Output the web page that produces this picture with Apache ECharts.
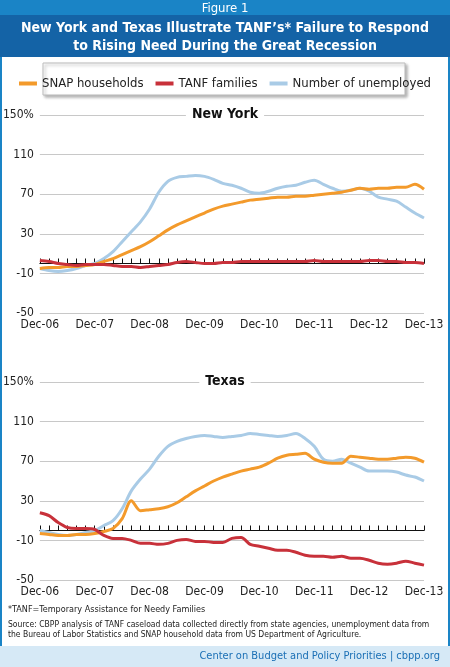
<!DOCTYPE html>
<html><head><meta charset="utf-8">
<script src="https://cdn.jsdelivr.net/npm/echarts@6/dist/echarts.min.js"></script>
<style>html,body{margin:0;padding:0;width:450px;height:667px;overflow:hidden;background:#fff}#c{width:450px;height:667px}</style>
</head><body><div id="c"></div>
<script>
const months = [];
(function(){const m=['Dec','Feb','Apr','Jun','Aug','Oct'];for(let y=6;y<=13;y++){for(let i=0;i<6;i++){if(y===13&&i>0)break;months.push(m[i]+'-'+String(i===0?y:y+1).padStart(2,'0'));}}})();
const yTicks = [-50,-10,30,70,110,150];
const nySnap = [-5,-4,-4,-3,-3,-2,-1, 2,5,9,13,17,22, 28,34,39,43,47,51, 55,58,60,62,64,65, 66,67,67,68,68,69, 70,71,72,74,76,75, 76,76,77,77,80,75];
const nyTanf = [3,2,0,-1,-2,-1,-1, -1,-2,-3,-3,-4,-3, -2,-1,1,2,1,0, 0,1,1,2,2,2, 2,2,2,2,2,3, 2,2,2,2,2,3, 3,2,2,1,1,0];
const nyUnemp = [-5,-7,-8,-7,-5,-2,0, 5,12,22,32,42,55, 72,83,87,88,89,88, 85,81,79,76,72,71, 73,76,78,79,82,84, 80,76,73,74,76,73, 67,65,63,57,51,46];
const txSnap = [-3,-4,-5,-5,-4,-4,-3, -1,2,12,30,20,21, 22,24,28,34,40,45, 50,54,57,60,62,64, 68,73,76,77,78,72, 69,68,68,75,74,73, 72,72,73,74,73,69];
const txTanf = [18,15,8,3,2,2,1, -5,-8,-8,-10,-13,-13, -14,-13,-10,-9,-11,-11, -12,-12,-8,-7,-14,-16, -18,-20,-20,-22,-25,-26, -26,-27,-26,-28,-28,-30, -33,-34,-33,-31,-33,-35];
const txUnemp = [0,-2,-4,-5,-4,-2,0, 5,10,22,40,52,62, 75,85,90,93,95,96, 95,94,95,96,98,97, 96,95,96,98,93,85, 72,70,72,68,64,60, 60,60,59,56,54,50];
const seriesNames = ['SNAP households','TANF families','Number of unemployed'];
const colors = ['#f39a2b','#c8313a','#a9cbe6'];
const F = "'Liberation Sans Narrow','DejaVu Sans Condensed',sans-serif";
const grids = [{left:31,right:26,top:115,height:198},{left:31,right:26,top:382,height:198}];
const xAxes=[], yAxes=[], series=[];
grids.forEach((g,i)=>{
  xAxes.push({gridIndex:i,type:'category',data:months,boundaryGap:false,
    axisLine:{show:false},axisTick:{show:false},
    axisLabel:{interval:5,color:'#222',fontFamily:F,fontSize:12,margin:6,formatter:v=>v.startsWith('Dec')?v:''}});
  xAxes.push({gridIndex:i,type:'category',data:months,boundaryGap:false,position:'bottom',offset:-49.5,
    axisLine:{show:true,lineStyle:{color:'#111',width:1}},axisTick:{show:true,interval:0,length:5,inside:true,lineStyle:{color:'#111'}},
    axisLabel:{show:false}});
  yAxes.push({gridIndex:i,type:'value',min:-50,max:150,interval:40,
    axisLine:{show:false},axisTick:{show:false},
    splitLine:{lineStyle:{color:'#c8c8c8'}},
    axisLabel:{color:'#222',fontFamily:F,fontSize:12,margin:6,formatter:v=>v===150?'150%':String(v)}});
});
const data=[[nySnap,nyTanf,nyUnemp],[txSnap,txTanf,txUnemp]];
data.forEach((set,gi)=>{
  [2,0,1].forEach(k=>series.push({name:seriesNames[k],type:'line',xAxisIndex:gi*2,yAxisIndex:gi,data:set[k],
    showSymbol:false,smooth:0.3,lineStyle:{color:colors[k],width:3},itemStyle:{color:colors[k]},z:k===1?4:3}));
});
const chart=echarts.init(document.getElementById('c'),null,{renderer:'canvas'});
chart.setOption({
  animation:false,
  grid:grids,xAxis:xAxes,yAxis:yAxes,series:series,
  legend:{show:true,top:72,left:'center',width:420,itemWidth:18,itemHeight:4,itemGap:12,icon:'rect',
    data:seriesNames,textStyle:{fontFamily:F,fontSize:13,color:'#222'}},
  graphic:[
    {type:'rect',shape:{x:0,y:0,width:450,height:15},style:{fill:'#1a84c6'}},
    {type:'rect',shape:{x:0,y:15,width:450,height:42},style:{fill:'#1463a6'}},
    {type:'text',x:225,y:2,style:{text:'Figure 1',fill:'#fff',font:"13px "+F,textAlign:'center'}},
    {type:'text',x:225,y:19,style:{text:'New York and Texas Illustrate TANF\u2019s* Failure to Respond\nto Rising Need During the Great Recession',fill:'#fff',font:"bold 14px "+F,textAlign:'center',lineHeight:18}},
    {type:'rect',shape:{x:0,y:57,width:2,height:590},style:{fill:'#1a84c6'}},
    {type:'rect',shape:{x:448,y:57,width:2,height:590},style:{fill:'#1a84c6'}},
    {type:'rect',z:-1,shape:{x:43,y:63,width:362,height:32},style:{fill:'#fff',stroke:'#bbb',lineWidth:1,shadowBlur:3,shadowOffsetX:2,shadowOffsetY:2,shadowColor:'rgba(0,0,0,0.3)'}},
    {type:'text',x:225,y:107,z:10,style:{text:'New York',fill:'#111',font:"bold 14px "+F,textAlign:'center',backgroundColor:'#fff',padding:[0,6]}},
    {type:'text',x:225,y:374,z:10,style:{text:'Texas',fill:'#111',font:"bold 14px "+F,textAlign:'center',backgroundColor:'#fff',padding:[0,6]}},
    {type:'text',x:8,y:605,style:{text:'*TANF=Temporary Assistance for Needy Families',fill:'#222',font:"9px "+F}},
    {type:'text',x:8,y:620,style:{text:'Source: CBPP analysis of TANF caseload data collected directly from state agencies, unemployment data from\nthe Bureau of Labor Statistics and SNAP household data from US Department of Agriculture.',fill:'#222',font:"8.5px "+F,lineHeight:10}},
    {type:'rect',shape:{x:0,y:646,width:450,height:21},style:{fill:'#d6e9f6'}},
    {type:'text',x:440,y:651,style:{text:'Center on Budget and Policy Priorities | cbpp.org',fill:'#1a6fb5',font:"11px "+F,textAlign:'right'}}
  ]
});
</script></body></html>
